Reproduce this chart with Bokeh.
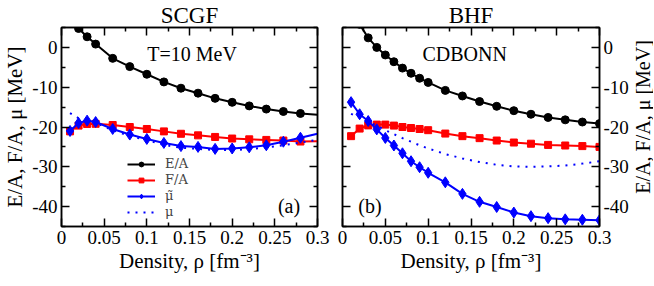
import math
from bokeh.plotting import figure
from bokeh.layouts import row
from bokeh.models import LinearAxis, FixedTicker, Legend, LegendItem, Label, Range1d
from bokeh.embed import file_html
from bokeh.resources import INLINE

FONT = "Liberation Serif"

# ---- tick labels ----
x_ticks = [0, 0.05, 0.1, 0.15, 0.2, 0.25, 0.3]
x_tick_labels = ["0", "0.05", "0.1", "0.15", "0.2", "0.25", "0.3"]
x_minor = [0.025, 0.075, 0.125, 0.175, 0.225, 0.275]
y_ticks = [-40, -30, -20, -10, 0]
y_tick_labels = ["-40", "-30", "-20", "-10", "0"]
y_minor = [-45, -35, -25, -15, -5, 5]

# ---- SCGF (left panel) ----
scgf_x_ea = [0.02, 0.03, 0.04, 0.06, 0.08, 0.10, 0.12, 0.14, 0.16, 0.18, 0.20, 0.22, 0.24, 0.26, 0.28, 0.30]
scgf_ea = [4.75, 2.67, 0.83, -2.75, -4.83, -6.75, -8.67, -10.25, -11.5, -12.8, -13.8, -14.7, -15.5, -16.1, -16.6, -16.9]
scgf_x = [0.01, 0.02, 0.03, 0.04, 0.06, 0.08, 0.10, 0.12, 0.14, 0.16, 0.18, 0.20, 0.22, 0.24, 0.26, 0.28, 0.30]
scgf_fa = [-21.1, -19.65, -19.25, -19.2, -19.5, -20.0, -20.5, -21.1, -21.7, -22.1, -22.5, -22.9, -23.1, -23.25, -23.4, -23.65, -23.6]
scgf_mut = [-21.0, -19.0, -18.4, -18.75, -20.5, -21.9, -23.0, -24.0, -24.8, -25.0, -25.5, -25.4, -25.1, -24.6, -23.7, -22.7, -21.7]
scgf_mu = [-16.5, -17.8, -18.3, -19.0, -20.8, -22.3, -23.3, -24.5, -25.2, -25.5, -25.8, -25.8, -25.6, -25.1, -24.6, -23.9, -23.2]

# ---- BHF (right panel) ----
bhf_x_ea = [0.02, 0.03, 0.04, 0.05, 0.06, 0.07, 0.08, 0.09, 0.10, 0.12, 0.14, 0.16, 0.18, 0.20, 0.22, 0.24, 0.26, 0.28, 0.30]
bhf_ea = [5.8, 2.4, 0.0, -1.9, -3.6, -5.2, -6.5, -7.75, -8.8, -10.8, -12.2, -13.6, -14.8, -15.9, -16.8, -17.6, -18.2, -18.75, -19.15]
bhf_x = [0.01, 0.02, 0.03, 0.04, 0.05, 0.06, 0.07, 0.08, 0.09, 0.10, 0.12, 0.14, 0.16, 0.18, 0.20, 0.22, 0.24, 0.26, 0.28, 0.30]
bhf_fa = [-22.3, -20.4, -19.6, -19.4, -19.4, -19.65, -20.0, -20.25, -20.5, -20.8, -21.65, -22.3, -22.8, -23.4, -23.9, -24.2, -24.5, -24.65, -24.8, -25.0]
bhf_mut = [-13.75, -16.8, -18.5, -20.6, -22.75, -24.65, -26.6, -28.6, -30.1, -31.5, -33.9, -36.8, -38.8, -40.1, -41.5, -42.4, -42.9, -43.2, -43.3, -43.4]
bhf_mu = [-16.7, -17.6, -18.6, -19.7, -20.8, -21.8, -22.8, -23.7, -24.6, -25.4, -26.8, -27.9, -28.8, -29.5, -29.9, -30.0, -29.9, -29.7, -29.2, -28.6]

BLACK, RED, BLUE = "#000000", "#ff0000", "#0000ff"
Y_LABEL = "E/A, F/A, \u03bc [MeV]"
X_LABEL = "Density, \u03c1 [fm\u207b\u00b3]"


def style_axis(ax, xy, show_labels):
    if xy == "x":
        ax.ticker = FixedTicker(ticks=x_ticks, minor_ticks=x_minor)
        ax.major_label_overrides = {t: s for t, s in zip(x_ticks, x_tick_labels)}
    else:
        ax.ticker = FixedTicker(ticks=y_ticks, minor_ticks=y_minor)
        ax.major_label_overrides = {t: s for t, s in zip(y_ticks, y_tick_labels)}
    ax.major_tick_in = 8
    ax.major_tick_out = 0
    ax.minor_tick_in = 4
    ax.minor_tick_out = 0
    ax.major_tick_line_width = 1.5
    ax.minor_tick_line_width = 1.5
    ax.axis_line_width = 1.5
    ax.major_tick_line_color = "black"
    ax.minor_tick_line_color = "black"
    ax.axis_line_color = "black"
    ax.major_label_text_font = FONT
    ax.axis_label_text_font = FONT
    ax.axis_label_text_font_style = "normal"
    ax.axis_label_text_font_size = "21px"
    ax.axis_label_text_color = "black"
    if show_labels:
        ax.major_label_text_color = "black"
        ax.major_label_text_font_size = "19px"
        ax.major_label_standoff = 4
        ax.axis_label_standoff = 2
    else:
        ax.major_label_text_color = None
        ax.major_label_text_font_size = "0px"
        ax.major_label_standoff = 0
        ax.axis_label_standoff = 0


def make_fig(y_side, title, min_left, min_right, frame_w):
    p = figure(frame_width=frame_w, frame_height=199, x_range=Range1d(0, 0.3),
               y_range=Range1d(-45, 5), output_backend="svg", toolbar_location=None,
               y_axis_location=y_side, title=title, min_border_top=23,
               min_border_left=min_left, min_border_right=min_right, min_border_bottom=48)
    p.title.align = "center"
    p.title.text_font = FONT
    p.title.text_font_size = "23px"
    p.title.text_font_style = "normal"
    p.title.text_color = "black"
    p.title.standoff = 0
    p.title.offset = 0
    p.grid.visible = False
    p.outline_line_color = "black"
    p.outline_line_width = 1.5
    p.background_fill_color = "white"
    p.border_fill_color = "white"
    style_axis(p.xaxis[0], "x", True)
    style_axis(p.yaxis[0], "y", True)
    p.xaxis[0].axis_label = X_LABEL
    top = LinearAxis()
    style_axis(top, "x", False)
    p.add_layout(top, "above")
    side = LinearAxis()
    style_axis(side, "y", False)
    p.add_layout(side, "left" if y_side == "right" else "right")
    return p


def draw(p, x_ea, ea, x, fa, mut, mu, all_markers):
    n_ea = len(x_ea) if all_markers else len(x_ea) - 1
    n = len(x) if all_markers else len(x) - 1
    r = {}
    r["ea_l"] = p.line(x_ea, ea, line_color=BLACK, line_width=2)
    r["ea_s"] = p.scatter(x_ea[:n_ea], ea[:n_ea], marker="circle", size=8, color=BLACK)
    r["fa_l"] = p.line(x, fa, line_color=RED, line_width=2)
    r["fa_s"] = p.scatter(x[:n], fa[:n], marker="square", size=7, color=RED)
    r["mut_l"] = p.line(x, mut, line_color=BLUE, line_width=2)
    r["mut_s"] = p.scatter(x[:n], mut[:n], marker="diamond", size=11, color=BLUE)
    r["mu_l"] = p.line(x, mu, line_color=BLUE, line_width=2, line_dash="2 6")
    return r


def text(p, s, x, y, size="20px", angle=0.0):
    p.add_layout(Label(x=x, y=y, text=s, text_font=FONT, text_font_size=size, angle=angle,
                       text_align="center", text_baseline="middle", text_color="black"))


# left panel
p1 = make_fig("left", "SCGF", 51, 14, 256)
p1.yaxis[0].axis_label = Y_LABEL
r1 = draw(p1, scgf_x_ea, scgf_ea, scgf_x, scgf_fa, scgf_mut, scgf_mu, False)
text(p1, "T=10 MeV", 0.153, -1.6)
text(p1, "(a)", 0.2666, -39.8)

legend = Legend(items=[
    LegendItem(label="E/A", renderers=[r1["ea_l"], r1["ea_s"]]),
    LegendItem(label="F/A", renderers=[r1["fa_l"], r1["fa_s"]]),
    LegendItem(label="\u03bc\u0303", renderers=[r1["mut_l"], r1["mut_s"]]),
    LegendItem(label="\u03bc", renderers=[r1["mu_l"]]),
], location=(66, 7))
legend.border_line_color = None
legend.background_fill_alpha = 0
legend.label_text_font = "DejaVu Serif"
legend.label_text_font_size = "13px"
legend.glyph_width = 28
legend.glyph_height = 12
legend.label_height = 12
legend.spacing = 1
legend.padding = 0
legend.margin = 0
legend.label_standoff = 10
p1.add_layout(legend, "center")

# right panel
p2 = make_fig("right", "BHF", 11, 27, 257)
p2.yaxis[0].major_label_standoff = 3
draw(p2, bhf_x_ea, bhf_ea, bhf_x, bhf_fa, bhf_mut, bhf_mu, True)
text(p2, "CDBONN", 0.1426, -1.6)
text(p2, "(b)", 0.032, -39.8)

# strip holding the right-hand y-axis title (reads bottom to top)
p3 = figure(width=22, height=270, x_range=Range1d(0, 1), y_range=Range1d(0, 1),
            output_backend="svg", toolbar_location=None, x_axis_location=None,
            y_axis_location=None, min_border=0)
p3.grid.visible = False
p3.outline_line_color = None
p3.background_fill_color = "white"
p3.border_fill_color = "white"
text(p3, Y_LABEL, 0.52, 0.539, "20px", math.pi / 2)

layout = row(p1, p2, p3)
open("out.html", "w").write(file_html(layout, INLINE))
